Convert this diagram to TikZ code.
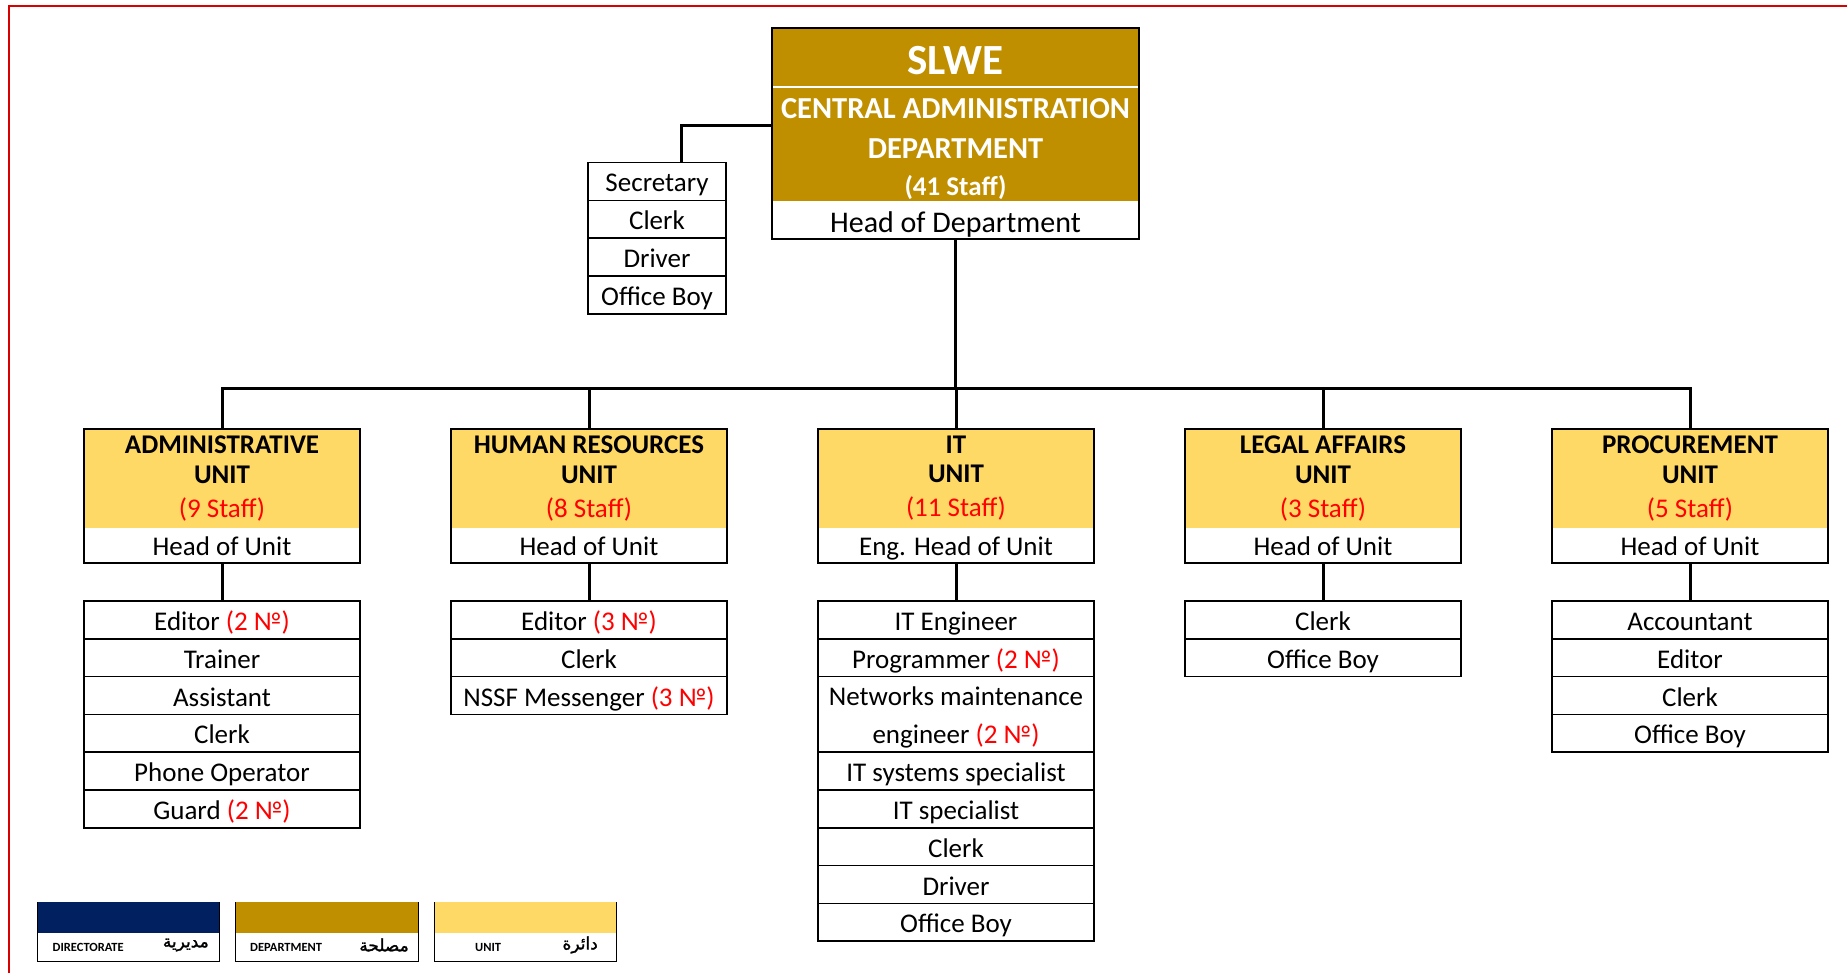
\documentclass[tikz,border=0pt]{standalone}
\usepackage{fontspec}
\setmainfont{Carlito}
\newfontfamily\arabicfont[Script=Arabic, FakeBold=1.5]{DejaVu Sans}
\TeXXeTstate=1
\usetikzlibrary{positioning}
\definecolor{deptgold}{HTML}{BF8F00}
\definecolor{unityellow}{HTML}{FFD966}
\definecolor{dirblue}{HTML}{002060}
\definecolor{framered}{HTML}{D90000}
\newcommand{\bodyfont}{\fontsize{27}{29.5}\selectfont}
\newcommand{\numof}[1]{\textcolor{red}{(#1 №)}}
\newcommand{\staffof}[1]{\textcolor{red}{(#1 Staff)}}

\begin{document}
\begin{tikzpicture}[x=1pt, y=-1pt,
  rowbox/.style={draw, line width=1.6pt, minimum width=276pt, minimum height=37.8pt,
    inner sep=0pt, outer sep=0pt, text height=21.5pt, text depth=0.5pt, font=\bodyfont},
  unitbox/.style={fill=unityellow, minimum width=276pt, minimum height=99pt,
    inner sep=0pt, outer sep=0pt, align=center, font=\bodyfont},
  headrow/.style={minimum width=276pt, minimum height=36pt, inner sep=0pt, outer sep=0pt,
    text height=20.5pt, text depth=0.5pt, font=\bodyfont},
  frame/.style={line width=1.6pt},
  link/.style={line width=3pt},
  legtop/.style={minimum width=182.5pt, minimum height=30.7pt, inner sep=0pt, outer sep=0pt},
  legbot/.style={minimum width=182.5pt, minimum height=28.3pt, inner sep=0pt, outer sep=0pt},
  legtext/.style={font=\bfseries\fontsize{12.5}{14}\selectfont, inner sep=0pt},
  legarab/.style={font=\arabicfont\fontsize{17}{18}\selectfont, inner sep=0pt},
]
  \useasboundingbox (0,0) rectangle (1847,973);
  % page frame
  \draw[framered, line width=2pt] (1847,6) -- (9,6) -- (9,973);

  % Department
  \node[fill=deptgold, minimum width=367pt, minimum height=173.5pt, inner sep=0pt, outer sep=0pt] (dept) at (955.5,114.75) {};
  \node[minimum width=367pt, minimum height=37.5pt, inner sep=0pt, outer sep=0pt] (depthead) at (955.5,220.25) {};
  \draw[white, line width=2.7pt] (dept.west |- 0,87) -- (dept.east |- 0,87);
  \node[anchor=base, text=white, font=\bfseries\fontsize{43}{43}\selectfont] (slwe) at (955.5,74.5) {SLWE};
  \node[anchor=base, text=white, font=\bfseries\fontsize{30.5}{30.5}\selectfont] (deptname) at (955.5,118.2) {CENTRAL ADMINISTRATION};
  \node[anchor=base, text=white, font=\bfseries\fontsize{30.5}{30.5}\selectfont] (deptword) at (955.5,158.2) {DEPARTMENT};
  \node[anchor=base, text=white, font=\bfseries\fontsize{27}{27}\selectfont] (deptstaff) at (955.5,195.2) {(41 Staff)};
  \node[anchor=base, font=\fontsize{30}{30}\selectfont] (deptheadtext) at (955.5,232.2) {Head of Department};
  \draw[frame] (dept.north west) rectangle (depthead.south east);

  % Department office
  \foreach \t [count=\i] in {Secretary, Clerk, Driver, Office Boy}
    \node[rowbox, minimum width=138.5pt] (sec\i) at (657,{143.6+37.9*\i}) {\t};

  % Units
  \node[unitbox] (adm) at (222,478.3) {\textbf{ADMINISTRATIVE}\\\textbf{UNIT}\\[4.5pt]\staffof{9}};
  \node[headrow] (admhead) at (222,545) {Head of Unit};
  \draw[frame] (adm.north west) rectangle (admhead.south east);

  \node[unitbox] (hr) at (589,478.3) {\textbf{HUMAN RESOURCES}\\\textbf{UNIT}\\[4.5pt]\staffof{8}};
  \node[headrow] (hrhead) at (589,545) {Head of Unit};
  \draw[frame] (hr.north west) rectangle (hrhead.south east);

  \node[unitbox] (it) at (956,478.3) {\textbf{IT}\\\textbf{UNIT}\\[4.5pt]\staffof{11}};
  \node[headrow] (ithead) at (956,545) {Eng. Head of Unit};
  \draw[frame] (it.north west) rectangle (ithead.south east);

  \node[unitbox] (leg) at (1323,478.3) {\textbf{LEGAL AFFAIRS}\\\textbf{UNIT}\\[4.5pt]\staffof{3}};
  \node[headrow] (leghead) at (1323,545) {Head of Unit};
  \draw[frame] (leg.north west) rectangle (leghead.south east);

  \node[unitbox] (proc) at (1690,478.3) {\textbf{PROCUREMENT}\\\textbf{UNIT}\\[4.5pt]\staffof{5}};
  \node[headrow] (prochead) at (1690,545) {Head of Unit};
  \draw[frame] (proc.north west) rectangle (prochead.south east);

  % Staff lists
  \foreach \t [count=\i] in {Editor \numof{2}, Trainer, Assistant, Clerk, Phone Operator, Guard \numof{2}}
    \node[rowbox] (adm\i) at (222,{582.1+37.8*\i}) {\t};
  \foreach \t [count=\i] in {Editor \numof{3}, Clerk, NSSF Messenger \numof{3}}
    \node[rowbox] (hr\i) at (589,{582.1+37.8*\i}) {\t};
  \node[rowbox] (it1) at (956,619.9) {IT Engineer};
  \node[rowbox] (it2) at (956,657.7) {Programmer \numof{2}};
  \node[rowbox, minimum height=75.6pt, align=center, text height=58.7pt, text depth=0.5pt,
    font=\fontsize{27}{37.7}\selectfont] (it3) at (956,714.4) {Networks maintenance\\engineer \numof{2}};
  \foreach \t [count=\i from 4] in {IT systems specialist, IT specialist, Clerk, Driver, Office Boy}
    \node[rowbox] (it\i) at (956,{619.9+37.8*\i}) {\t};
  \foreach \t [count=\i] in {Clerk, Office Boy}
    \node[rowbox] (leg\i) at (1323,{582.1+37.8*\i}) {\t};
  \foreach \t [count=\i] in {Accountant, Editor, Clerk, Office Boy}
    \node[rowbox] (proc\i) at (1690,{582.1+37.8*\i}) {\t};

  % Connectors
  \coordinate (bus) at (955.5,389);
  \draw[link] ([yshift=-11pt]dept.west) -| ([xshift=24pt]sec1.north);
  \draw[link] (depthead.south) -- (bus);
  \foreach \u in {adm,hr,it,leg,proc}
    \draw[link] (bus) -| (\u.north);
  \draw[link] (admhead.south) -- (adm1.north);
  \draw[link] (hrhead.south) -- (hr1.north);
  \draw[link] (ithead.south) -- (it1.north);
  \draw[link] (leghead.south) -- (leg1.north);
  \draw[link] (prochead.south) -- (proc1.north);

  % Legend
  \node[legtop, fill=dirblue] (legdir) at (128.4,917.35) {};
  \node[legbot] (legdirb) at (128.4,946.85) {};
  \draw[line width=1pt] (legdir.north west) |- (legdirb.south east) -| (legdir.north east);
  \node[legtext, anchor=west] (legdirtxt) at (52.5,947) {DIRECTORATE};
  \node[legarab, anchor=east] (legdirar) at (209,945) {\beginR مديرية\endR};

  \node[legtop, fill=deptgold] (legdep) at (326.8,917.35) {};
  \node[legbot] (legdepb) at (326.8,946.85) {};
  \draw[line width=1pt] (legdep.north west) |- (legdepb.south east) -| (legdep.north east);
  \node[legtext, anchor=west] (legdeptxt) at (250,947) {DEPARTMENT};
  \node[legarab, anchor=east] (legdepar) at (409,945) {\beginR مصلحة\endR};

  \node[legtop, fill=unityellow] (legunit) at (525.4,917.35) {};
  \node[legbot] (legunitb) at (525.4,946.85) {};
  \draw[line width=1pt] (legunit.north west) |- (legunitb.south east) -| (legunit.north east);
  \node[legtext, anchor=west] (legunittxt) at (475,947) {UNIT};
  \node[legarab, anchor=east] (legunitar) at (598,945) {\beginR دائرة\endR};
\end{tikzpicture}
\end{document}
